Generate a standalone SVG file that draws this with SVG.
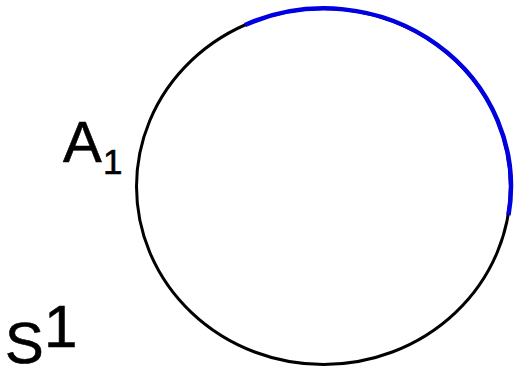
<svg xmlns="http://www.w3.org/2000/svg" width="514" height="369" viewBox="0 0 514 369">
<style>
.t{font-family:"Liberation Sans",Arial,sans-serif;fill:#000;stroke:#000;stroke-width:0.6}
</style>
<rect width="514" height="369" fill="#fff"/>
<g id="circle">
<ellipse cx="323.5" cy="186.5" rx="187" ry="178" fill="none" stroke="#000" stroke-width="3"/>
</g>
<g id="arc">
<path d="M245,25 A187,178 0 0 1 508.5,215" fill="none" stroke="#0000e0" stroke-width="4.5"/>
</g>
<g id="labelA">
<text class="t" x="63" y="162" font-size="58">A</text>
<text class="t" x="103" y="174" font-size="35">1</text>
</g>
<g id="labelS">
<text class="t" x="5" y="363" font-size="58">S</text>
<text class="t" x="44" y="347" font-size="60">1</text>
</g>
</svg>
